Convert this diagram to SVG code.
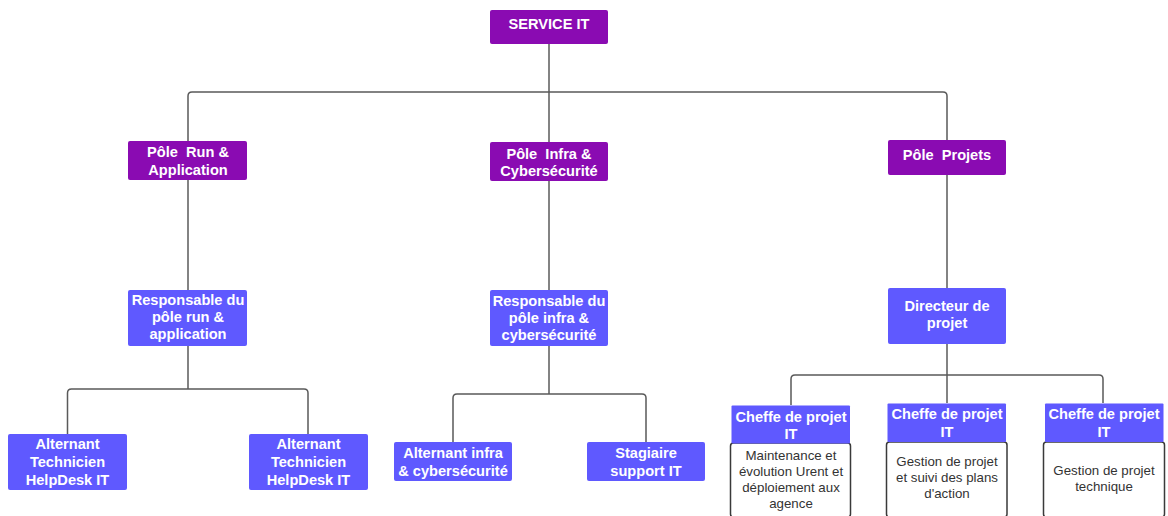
<svg xmlns="http://www.w3.org/2000/svg" width="1168" height="516" viewBox="0 0 1168 516">
<style>
.p{fill:#8A0BB2}
.b{fill:#5F59FF}
.d{fill:#fff;stroke:#3a3a3a;stroke-width:1.5}
.t{font-family:"Liberation Sans",Arial,sans-serif;font-weight:bold;font-size:14.6px;fill:#fff;text-anchor:middle;white-space:pre}
.s{font-family:"Liberation Sans",Arial,sans-serif;font-size:13.3px;fill:#333;text-anchor:middle}
.c{fill:none;stroke:#5a5a5a;stroke-width:1.5;stroke-linejoin:round}
</style>
<rect width="1168" height="516" fill="#fff"/>
<g id="connectors">
<path class="c" d="M549 44V142"/>
<path class="c" d="M188 141V96Q188 92 192 92H943Q947 92 947 96V140"/>
<path class="c" d="M188 180V290"/>
<path class="c" d="M549 181V290"/>
<path class="c" d="M947 175V288"/>
<path class="c" d="M188 346V389"/>
<path class="c" d="M67.5 434V393Q67.5 389 71.5 389H304Q308 389 308 393V434"/>
<path class="c" d="M549 346V394"/>
<path class="c" d="M453 442V398Q453 394 457 394H642Q646 394 646 398V442"/>
<path class="c" d="M947 344V403"/>
<path class="c" d="M791 405V379Q791 375 795 375H1099Q1103 375 1103 379V403"/>
</g>
<g id="service-it"><rect class="p" x="490" y="10" width="118" height="34" rx="2"/><text class="t" x="549" y="29">SERVICE IT</text></g>
<g id="pole-run"><rect class="p" x="128" y="141" width="119" height="39" rx="2"/><text class="t" x="188" y="157" xml:space="preserve">Pôle  Run &amp;</text><text class="t" x="188" y="175">Application</text></g>
<g id="pole-infra"><rect class="p" x="490" y="142" width="118" height="39" rx="2"/><text class="t" x="549" y="159" xml:space="preserve">Pôle  Infra &amp;</text><text class="t" x="549" y="176">Cybersécurité</text></g>
<g id="pole-projets"><rect class="p" x="888" y="140" width="118" height="35" rx="2"/><text class="t" x="947" y="160" xml:space="preserve">Pôle  Projets</text></g>
<g id="resp-run"><rect class="b" x="128" y="290" width="119" height="56" rx="2"/><text class="t" x="188" y="305">Responsable du</text><text class="t" x="188" y="322">pôle run &amp;</text><text class="t" x="188" y="339">application</text></g>
<g id="resp-infra"><rect class="b" x="490" y="290" width="118" height="56" rx="2"/><text class="t" x="549" y="306">Responsable du</text><text class="t" x="549" y="323">pôle infra &amp;</text><text class="t" x="549" y="340">cybersécurité</text></g>
<g id="directeur"><rect class="b" x="888" y="288" width="118" height="56" rx="2"/><text class="t" x="947" y="311">Directeur de</text><text class="t" x="947" y="328">projet</text></g>
<g id="alt-helpdesk-1"><rect class="b" x="8" y="434" width="119" height="56" rx="2"/><text class="t" x="67.5" y="449">Alternant</text><text class="t" x="67.5" y="467">Technicien</text><text class="t" x="67.5" y="485">HelpDesk IT</text></g>
<g id="alt-helpdesk-2"><rect class="b" x="249" y="434" width="119" height="56" rx="2"/><text class="t" x="308.5" y="449">Alternant</text><text class="t" x="308.5" y="467">Technicien</text><text class="t" x="308.5" y="485">HelpDesk IT</text></g>
<g id="alt-infra"><rect class="b" x="394" y="442" width="118" height="39" rx="2"/><text class="t" x="453" y="458">Alternant infra</text><text class="t" x="453" y="475.5">&amp; cybersécurité</text></g>
<g id="stagiaire"><rect class="b" x="587" y="442" width="118" height="39" rx="2"/><text class="t" x="646" y="458">Stagiaire</text><text class="t" x="646" y="475.5">support IT</text></g>
<g id="cheffe-1"><rect class="d" x="730.5" y="443" width="120" height="74" rx="3"/><rect class="b" x="731.5" y="405.5" width="118.5" height="38" rx="1"/><text class="t" x="791" y="421.5">Cheffe de projet</text><text class="t" x="791" y="439">IT</text><text class="s" x="791" y="460">Maintenance et</text><text class="s" x="791" y="476">évolution Urent et</text><text class="s" x="791" y="492">déploiement aux</text><text class="s" x="791" y="508">agence</text></g>
<g id="cheffe-2"><rect class="d" x="886.5" y="442" width="120.5" height="75" rx="3"/><rect class="b" x="887.5" y="403.5" width="118.5" height="38.5" rx="1"/><text class="t" x="947" y="419">Cheffe de projet</text><text class="t" x="947" y="436.5">IT</text><text class="s" x="947" y="465.5">Gestion de projet</text><text class="s" x="947" y="481.5">et suivi des plans</text><text class="s" x="947" y="497.5">d'action</text></g>
<g id="cheffe-3"><rect class="d" x="1043.5" y="442" width="121" height="75" rx="3"/><rect class="b" x="1045" y="403.5" width="118.5" height="38.5" rx="1"/><text class="t" x="1104" y="419">Cheffe de projet</text><text class="t" x="1104" y="436.5">IT</text><text class="s" x="1104" y="474.5">Gestion de projet</text><text class="s" x="1104" y="490.5">technique</text></g>
</svg>
